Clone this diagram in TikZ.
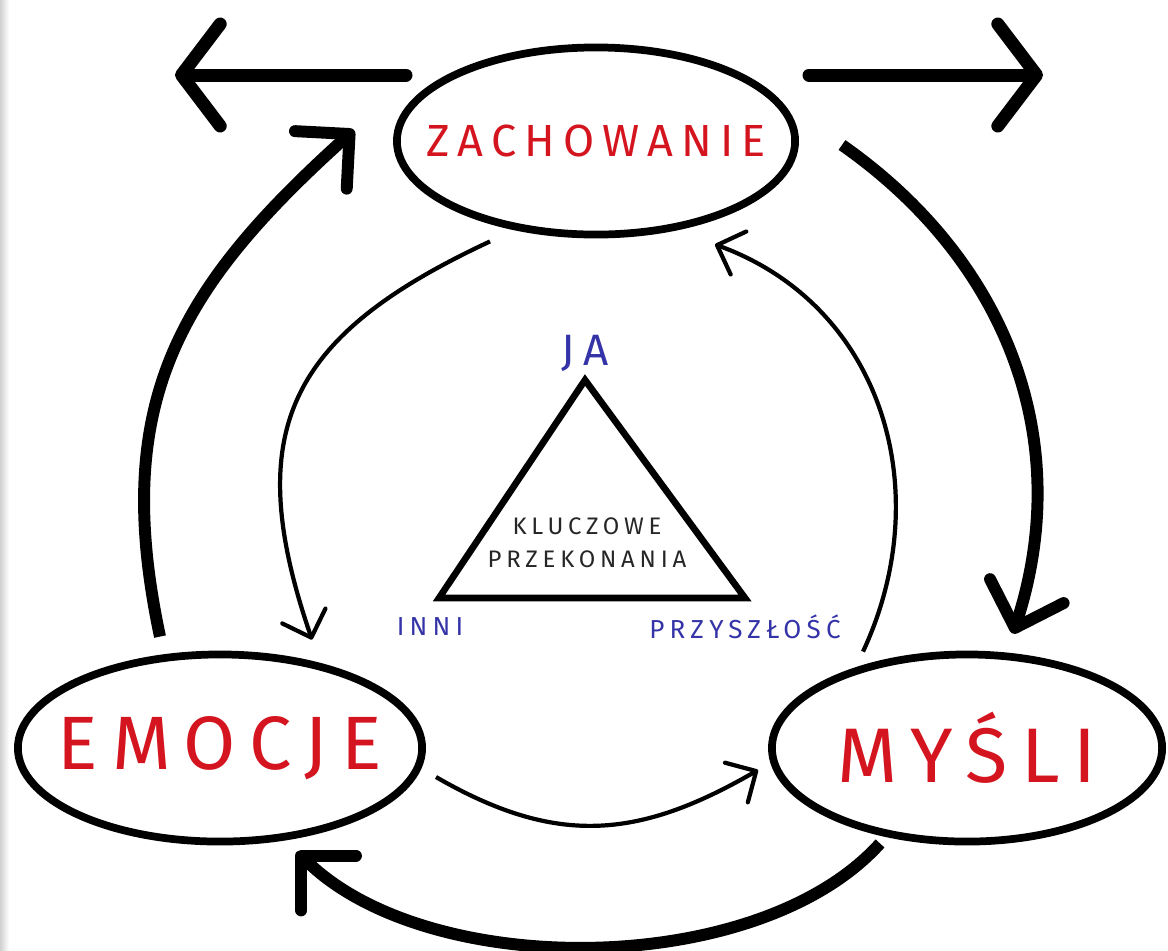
\documentclass[tikz,border=0pt]{standalone}
\usepackage{fontspec}
\setmainfont{Fira Sans}
\newfontfamily\spacedfont{Fira Sans}[LetterSpace=18.0]
\newfontfamily\widefont{Fira Sans}[LetterSpace=20.0]
\usetikzlibrary{arrows.meta,positioning,shapes.geometric}

\definecolor{redtext}{RGB}{212,20,30}
\definecolor{bluetext}{RGB}{52,52,168}
\definecolor{greytext}{RGB}{38,38,38}

\begin{document}
\begin{tikzpicture}[
  x=0.01cm,
  y=0.01cm,
  bubble/.style={
    ellipse,
    draw=black,
    line width=2.2pt,
    fill=white,
    text=redtext,
    inner xsep=-1.2cm,
    inner ysep=0pt,
    minimum width=3.98cm,
    minimum height=1.87cm
  },
  corner/.style={
    text=bluetext,
    font=\widefont\fontsize{7.4}{8}\selectfont,
    inner sep=0pt
  },
  core/.style={
    text=greytext,
    align=center,
    font=\widefont\fontsize{6.8}{9.4}\selectfont,
    inner sep=0pt
  },
  bigarrow/.style={-{Straight Barb[length=11pt,width=22pt,round]}, line width=3.4pt},
  smallarrow/.style={-{Straight Barb[length=6.5pt,width=13pt,round]}, line width=1.2pt},
  way/.style={-{Straight Barb[length=11pt,width=29pt,round]}, line width=3.7pt, line cap=round}
]
\useasboundingbox (0,0) rectangle (1168,950);
\fill[left color=black!18, right color=white] (0,0) rectangle (9,950);

\node[bubble, font=\spacedfont\fontsize{12.8}{14}\selectfont] (zach) at (596,809) {ZACHOWANIE};
\node[bubble, minimum width=4.04cm, font=\spacedfont\fontsize{21.5}{24}\selectfont] (emocje) at (220,202) {EMOCJE};
\node[bubble, minimum width=3.9cm, font=\spacedfont\fontsize{22}{24}\selectfont] (mysli) at (967,202) {MYŚLI};

\coordinate (ja) at (585,570);
\coordinate (inni) at (439,352);
\coordinate (przysz) at (745,352);
\draw[line width=1.9pt, line join=miter] (ja) -- (inni) -- (przysz) -- cycle;

\node[corner, font=\widefont\fontsize{12.5}{13}\selectfont, above=0.08cm of ja] (jalabel) {JA};
\node[corner] (innilabel) at (430,323) {INNI};
\node[corner] (przyszlabel) at (745,323) {PRZYSZŁOŚĆ};
\node[core] (kluczowe) at (587,407) {KLUCZOWE\\PRZEKONANIA};

\coordinate (wayleft) at (175,875);
\coordinate (wayright) at (1043,875);
\draw[way] ([shift={(-190,66)}]zach.center) -- (wayleft);
\draw[way] ([shift={(213,66)}]zach.center) -- (wayright);

\draw[bigarrow] ([shift={(-60,14)}]emocje.north) to[out=102, in=222, looseness=1.12] ([shift={(-39,11)}]zach.west);
\draw[bigarrow] ([shift={(43,-4)}]zach.east) to[out=-35, in=72] ([shift={(46,17)}]mysli.north);
\draw[bigarrow] ([shift={(-87,2)}]mysli.south) to[out=228, in=-45, looseness=0.8] ([shift={(77,-6)}]emocje.south);

\draw[smallarrow] ([shift={(-106,-3)}]zach.south) to[out=205, in=109, looseness=1.3] ([shift={(92,11)}]emocje.north);
\draw[smallarrow] ([shift={(-104,-1)}]mysli.north) to[out=65, in=-20, looseness=1.05] ([shift={(119,-6)}]zach.south);
\draw[smallarrow] ([shift={(10,-29)}]emocje.east) to[out=-30, in=210, looseness=1.1] ([shift={(-10,-22)}]mysli.west);
\end{tikzpicture}
\end{document}
